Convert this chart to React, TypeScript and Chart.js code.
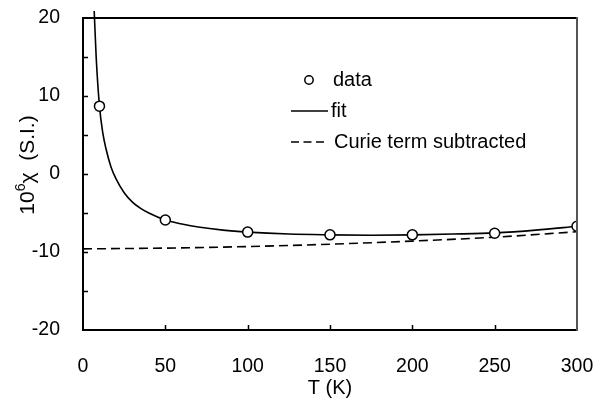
import { useEffect, useRef } from "react";
import { Chart, registerables } from "chart.js";

Chart.register(...registerables);

// Measured susceptibility
const dataTemp = [10, 50, 100, 150, 200, 250, 300];
const dataChi = [8.7, -5.9, -7.45, -7.8, -7.8, -7.6, -6.7];

// Fitted curve
const fitTemp = [6.8, 8, 10, 12, 14, 17, 20, 25, 30, 35, 40, 50, 60, 70, 85, 100, 125, 150, 175, 200, 225, 250, 275, 300];
const fitChi = [20.9, 15.0, 8.7, 5.3, 3.2, 0.9, -0.6, -2.4, -3.6, -4.4, -5.0, -5.9, -6.4, -6.8, -7.2, -7.45, -7.7, -7.8, -7.85, -7.8, -7.7, -7.55, -7.2, -6.7];

// Fit with the Curie term removed
const curieTemp = [0, 50, 100, 150, 200, 250, 300];
const curieChi = [-9.6, -9.5, -9.3, -9.0, -8.6, -8.1, -7.4];

// Axis ticks
const xTicks = [0, 50, 100, 150, 200, 250, 300];
const yTicks = [-20, -15, -10, -5, 0, 5, 10, 15, 20];
const yLabelled = [-20, -10, 0, 10, 20];

const seriesLabels = ["data", "fit", "Curie term subtracted"];
const xTitle = "T (K)";

const FONT = '"Liberation Sans", Arial, Helvetica, sans-serif';
const TICK_SIZE = 19.5;
const TEXT_SIZE = 20;
const YTITLE_SIZE = 21;

const pairs = (xs: number[], ys: number[]) => xs.map((x, i) => ({ x, y: ys[i] }));

// Box frame, inward tick marks, axis titles and the legend
const decorations = {
  id: "decorations",
  afterDraw(chart: any) {
    const { ctx, chartArea } = chart;
    const { left, right, top, bottom } = chartArea;
    const xs = chart.scales.x;
    const ys = chart.scales.y;
    ctx.save();

    // frame
    ctx.lineCap = "butt";
    ctx.lineWidth = 2;
    ctx.strokeStyle = "#000";
    ctx.beginPath();
    ctx.moveTo(left, top);
    ctx.lineTo(left, bottom);
    ctx.lineTo(right, bottom);
    ctx.moveTo(left - 1, top);
    ctx.lineTo(right, top);
    ctx.stroke();
    ctx.strokeStyle = "#555";
    ctx.beginPath();
    ctx.moveTo(right, top - 1);
    ctx.lineTo(right, bottom + 1);
    ctx.stroke();

    // inward ticks
    ctx.strokeStyle = "#000";
    ctx.lineWidth = 1.5;
    ctx.beginPath();
    for (const v of yTicks) {
      if (v === -20 || v === 20) continue;
      const py = Math.round(ys.getPixelForValue(v)) + 0.5;
      ctx.moveTo(left, py);
      ctx.lineTo(left + 5, py);
    }
    for (const v of xTicks) {
      if (v === 0 || v === 300) continue;
      const px = Math.round(xs.getPixelForValue(v)) + 0.5;
      ctx.moveTo(px, bottom);
      ctx.lineTo(px, bottom - 5);
    }
    ctx.stroke();

    const text = `${TEXT_SIZE}px ${FONT}`;

    // x title
    ctx.fillStyle = "#000";
    ctx.font = text;
    ctx.textAlign = "center";
    ctx.textBaseline = "middle";
    ctx.fillText(xTitle, (left + right) / 2, 388);

    // y title: 10^6 chi (S.I.)
    const big = `${YTITLE_SIZE}px ${FONT}`;
    const small = `${Math.round(YTITLE_SIZE * 0.68)}px ${FONT}`;
    ctx.save();
    ctx.translate(27, 165);
    ctx.rotate(-Math.PI / 2);
    ctx.font = big;
    const wTen = ctx.measureText("10").width;
    const rest = "\u03C7  (S.I.)";
    const wRest = ctx.measureText(rest).width;
    ctx.font = small;
    const wSix = ctx.measureText("6").width;
    let cx = -(wTen + wSix + wRest) / 2;
    ctx.textAlign = "left";
    ctx.textBaseline = "alphabetic";
    const base = 7;
    ctx.font = big;
    ctx.fillText("10", cx, base);
    cx += wTen;
    ctx.font = small;
    ctx.fillText("6", cx, base - 9);
    cx += wSix;
    ctx.font = big;
    ctx.fillText(rest, cx, base);
    ctx.restore();

    // legend
    const ds = chart.data.datasets;
    ctx.font = text;
    ctx.textAlign = "left";
    ctx.textBaseline = "middle";
    ctx.lineWidth = 1.5;
    ctx.strokeStyle = "#000";
    ctx.beginPath();
    ctx.arc(309, 80, 4.2, 0, Math.PI * 2);
    ctx.fillStyle = "#fff";
    ctx.fill();
    ctx.stroke();
    ctx.fillStyle = "#000";
    ctx.fillText(ds[0].label, 333, 80);
    ctx.beginPath();
    ctx.moveTo(291, 111);
    ctx.lineTo(328, 111);
    ctx.stroke();
    ctx.fillText(ds[1].label, 331, 111);
    ctx.setLineDash([8, 4.5]);
    ctx.beginPath();
    ctx.moveTo(291, 142);
    ctx.lineTo(328, 142);
    ctx.stroke();
    ctx.setLineDash([]);
    ctx.fillText(ds[2].label, 334, 142);

    ctx.restore();
  },
};

export default function App() {
  const canvasRef = useRef<HTMLCanvasElement | null>(null);

  useEffect(() => {
    const canvas = canvasRef.current;
    if (!canvas) return;
    const chart = new Chart(canvas, {
      type: "scatter",
      data: {
        datasets: [
          {
            label: seriesLabels[0],
            data: pairs(dataTemp, dataChi),
            showLine: false,
            pointStyle: "circle",
            pointRadius: 5,
            pointBackgroundColor: "#fff",
            pointBorderColor: "#000",
            pointBorderWidth: 1.5,
            order: 0,
          },
          {
            label: seriesLabels[1],
            data: pairs(fitTemp, fitChi),
            showLine: true,
            pointRadius: 0,
            borderColor: "#000",
            borderWidth: 1.6,
            cubicInterpolationMode: "monotone",
            clip: 8,
            order: 1,
          },
          {
            label: seriesLabels[2],
            data: pairs(curieTemp, curieChi),
            showLine: true,
            pointRadius: 0,
            borderColor: "#000",
            borderWidth: 1.6,
            borderDash: [9, 5],
            cubicInterpolationMode: "monotone",
            order: 2,
          },
        ],
      },
      options: {
        animation: false,
        responsive: false,
        layout: { padding: { top: 18, right: 18, left: 0, bottom: 0 } },
        plugins: {
          legend: { display: false },
          tooltip: { enabled: false },
        },
        scales: {
          x: {
            type: "linear",
            min: 0,
            max: 300,
            afterBuildTicks: (s: any) => {
              s.ticks = xTicks.map((v) => ({ value: v }));
            },
            afterFit: (s: any) => {
              s.height = 72;
              s.paddingLeft = 0;
              s.paddingRight = 0;
            },
            ticks: {
              color: "#000",
              font: { family: FONT, size: TICK_SIZE },
              padding: 17,
              maxRotation: 0,
            },
            grid: { display: false },
            border: { display: false },
          },
          y: {
            type: "linear",
            min: -20,
            max: 20,
            afterBuildTicks: (s: any) => {
              s.ticks = yTicks.map((v) => ({ value: v }));
            },
            afterFit: (s: any) => {
              s.width = 83;
              s.paddingTop = 0;
              s.paddingBottom = 0;
            },
            ticks: {
              color: "#000",
              font: { family: FONT, size: TICK_SIZE },
              padding: 15,
              callback: (v: any) => (yLabelled.includes(Number(v)) ? String(v) : ""),
            },
            grid: { display: false },
            border: { display: false },
          },
        },
      },
      plugins: [decorations],
    });
    return () => chart.destroy();
  }, []);

  return (
    <div style={{ position: "absolute", left: 0, top: 0, width: 595, height: 402, background: "#fff" }}>
      <canvas ref={canvasRef} width={595} height={402} style={{ display: "block" }} />
    </div>
  );
}
